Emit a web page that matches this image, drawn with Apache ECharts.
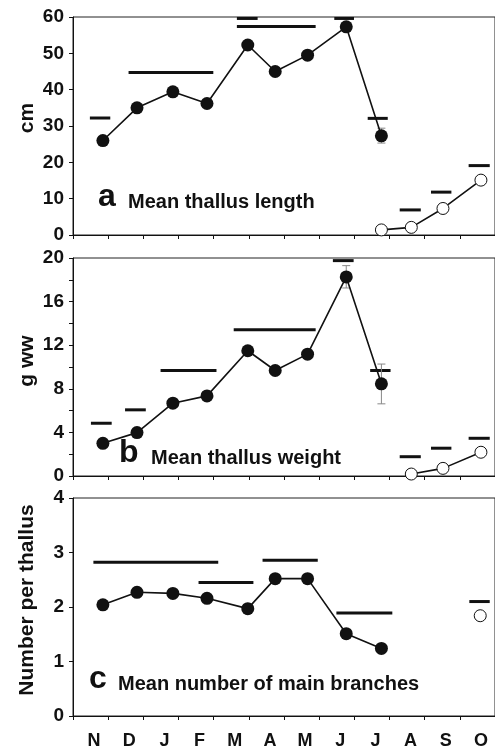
<!DOCTYPE html>
<html>
<head>
<meta charset="utf-8">
<script src="https://cdn.jsdelivr.net/npm/echarts@6/dist/echarts.min.js"></script>
<style>
  html, body { margin: 0; padding: 0; background: #fff; }
  #chart { width: 495px; height: 750px; }
</style>
</head>
<body>
<div id="chart"></div>
<script>
// month labels, Nov -> Oct
const months = ["N", "D", "J", "F", "M", "A", "M", "J", "J", "A", "S", "O"];

// sampling positions (in months from the N tick)
const sampleX = [0.85, 1.82, 2.84, 3.81, 4.97, 5.75, 6.67, 7.77, 8.77];

// a: mean thallus length (cm)
const lengthFilled = [26.0, 35.0, 39.4, 36.2, 52.3, 45.0, 49.5, 57.3, 27.3];
const lengthOpenX = [8.77, 9.62, 10.52, 11.6];
const lengthOpen = [1.4, 2.1, 7.3, 15.1];
const lengthGroups = [
  [0.48, 1.06, 32.2], [1.58, 3.99, 44.7], [4.66, 5.25, 59.6], [4.66, 6.9, 57.4],
  [7.43, 7.99, 59.6], [8.38, 8.95, 32.1], [9.29, 9.89, 6.9], [10.18, 10.76, 11.8],
  [11.25, 11.85, 19.1],
];
const lengthErr = [[8.77, 25.3, 29.4]];

// b: mean thallus weight (g ww)
const weightFilled = [3.0, 3.98, 6.68, 7.35, 11.49, 9.68, 11.18, 18.26, 8.46];
const weightOpenX = [9.62, 10.52, 11.6];
const weightOpen = [0.18, 0.7, 2.18];
const weightGroups = [
  [0.51, 1.1, 4.84], [1.48, 2.07, 6.07], [2.49, 4.08, 9.68], [4.57, 6.9, 13.42],
  [7.39, 7.98, 19.76], [8.45, 9.03, 9.68], [9.29, 9.89, 1.77], [10.18, 10.76, 2.55],
  [11.25, 11.85, 3.46],
];
const weightErr = [[7.77, 17.25, 19.3], [8.77, 6.62, 10.27]];

// c: mean number of main branches
const branchFilled = [2.04, 2.27, 2.25, 2.16, 1.97, 2.52, 2.52, 1.51, 1.24];
const branchOpenX = [11.58];
const branchOpen = [1.84];
const branchGroups = [
  [0.58, 4.13, 2.82], [3.57, 5.13, 2.45], [5.39, 6.96, 2.86], [7.49, 9.08, 1.89],
  [11.27, 11.85, 2.1],
];

const ink = "#111";
const font = "Liberation Sans";

const zip = (xs, ys) => xs.map((x, i) => [x, ys[i]]);

function xAxisFor(gridIndex) {
  return {
    type: "value",
    gridIndex,
    min: 0,
    max: 12,
    interval: 1,
    axisLine: { lineStyle: { color: ink, width: 1 } },
    axisTick: { length: 4, lineStyle: { color: ink } },
    axisLabel: { show: false },
    splitLine: { show: false },
  };
}

function yAxisFor(gridIndex, max, interval, name, labelStep, shift) {
  return {
    type: "value",
    gridIndex,
    min: 0,
    max,
    interval,
    name,
    nameLocation: "middle",
    nameGap: 35,
    nameMoveOverlap: false,
    nameTextStyle: {
      fontFamily: font, fontWeight: "bold", fontSize: 21, color: ink,
      padding: [0, 0, 0, shift],
    },
    axisLine: { show: true, lineStyle: { color: ink, width: 1 } },
    axisTick: { show: true, length: 4, lineStyle: { color: ink } },
    axisLabel: {
      margin: 9,
      fontFamily: font, fontWeight: "bold", fontSize: 19, color: ink,
      formatter: (v) => (v % labelStep === 0 ? v : ""),
    },
    splitLine: { show: false },
  };
}

function filledSeries(i, data) {
  return {
    type: "line", xAxisIndex: i, yAxisIndex: i, data, z: 5,
    symbol: "circle", symbolSize: 13,
    lineStyle: { color: ink, width: 1.6 },
    itemStyle: { color: ink },
    animation: false,
  };
}

function openSeries(i, data) {
  return {
    type: "line", xAxisIndex: i, yAxisIndex: i, data, z: 5,
    symbol: "circle", symbolSize: 12,
    lineStyle: { color: ink, width: 1.6 },
    itemStyle: { color: "#fff", borderColor: ink, borderWidth: 1 },
    animation: false,
  };
}

// horizontal bars showing homogeneous groups
function groupSeries(i, data) {
  return {
    type: "custom", xAxisIndex: i, yAxisIndex: i, data, z: 3,
    encode: { x: [0, 1], y: 2 },
    renderItem: (params, api) => {
      const a = api.coord([api.value(0), api.value(2)]);
      const b = api.coord([api.value(1), api.value(2)]);
      return {
        type: "line",
        shape: { x1: a[0], y1: a[1], x2: b[0], y2: b[1] },
        style: { stroke: ink, lineWidth: 3 },
      };
    },
    animation: false,
  };
}

function errorSeries(i, data) {
  return {
    type: "custom", xAxisIndex: i, yAxisIndex: i, data, z: 4,
    encode: { x: 0, y: [1, 2] },
    renderItem: (params, api) => {
      const lo = api.coord([api.value(0), api.value(1)]);
      const hi = api.coord([api.value(0), api.value(2)]);
      const style = { stroke: "#888", lineWidth: 1 };
      return {
        type: "group",
        children: [
          { type: "line", shape: { x1: lo[0], y1: lo[1], x2: hi[0], y2: hi[1] }, style },
          { type: "line", shape: { x1: lo[0] - 4, y1: lo[1], x2: lo[0] + 4, y2: lo[1] }, style },
          { type: "line", shape: { x1: hi[0] - 4, y1: hi[1], x2: hi[0] + 4, y2: hi[1] }, style },
        ],
      };
    },
    animation: false,
  };
}

function panelText(letter, text, letterX, textX, baseline) {
  return [
    {
      type: "text", left: letterX, top: baseline - 29,
      style: { text: letter, font: `bold 32px "${font}"`, fill: ink },
    },
    {
      type: "text", left: textX, top: baseline - 18,
      style: { text, font: `bold 20px "${font}"`, fill: ink },
    },
  ];
}

const grids = [
  { left: 73, width: 428, top: 17, height: 218 },
  { left: 73, width: 428, top: 258, height: 218 },
  { left: 73, width: 428, top: 498, height: 219 },
].map((g) => ({ ...g, show: true, borderColor: "#222", borderWidth: 1 }));

const opt = {
  backgroundColor: "#fff",
  animation: false,
  grid: grids,
  xAxis: [
    xAxisFor(0),
    xAxisFor(1),
    xAxisFor(2),
    {
      type: "category",
      gridIndex: 2,
      position: "bottom",
      data: months.map((m, i) => String(i)),
      boundaryGap: true,
      axisLine: { show: false },
      axisTick: { show: false },
      axisLabel: {
        margin: 16,
        padding: [0, 0, 0, 7],
        fontFamily: font, fontWeight: "bold", fontSize: 18, color: ink,
        formatter: (v) => months[+v],
      },
    },
  ],
  yAxis: [
    yAxisFor(0, 60, 10, "cm", 10, 16),
    yAxisFor(1, 20, 2, "g ww", 4, 12),
    yAxisFor(2, 4, 1, "Number per thallus", 1, 14),
  ],
  graphic: [
    ...panelText("a", "Mean thallus length", 98, 128, 210),
    ...panelText("b", "Mean thallus weight", 119, 151, 466),
    ...panelText("c", "Mean number of main branches", 89, 118, 692),
  ],
  series: [
    groupSeries(0, lengthGroups),
    errorSeries(0, lengthErr),
    filledSeries(0, zip(sampleX, lengthFilled)),
    openSeries(0, zip(lengthOpenX, lengthOpen)),

    groupSeries(1, weightGroups),
    errorSeries(1, weightErr),
    filledSeries(1, zip(sampleX, weightFilled)),
    openSeries(1, zip(weightOpenX, weightOpen)),

    groupSeries(2, branchGroups),
    filledSeries(2, zip(sampleX, branchFilled)),
    openSeries(2, zip(branchOpenX, branchOpen)),
  ],
};

echarts.init(document.getElementById("chart")).setOption(opt);
</script>
</body>
</html>
